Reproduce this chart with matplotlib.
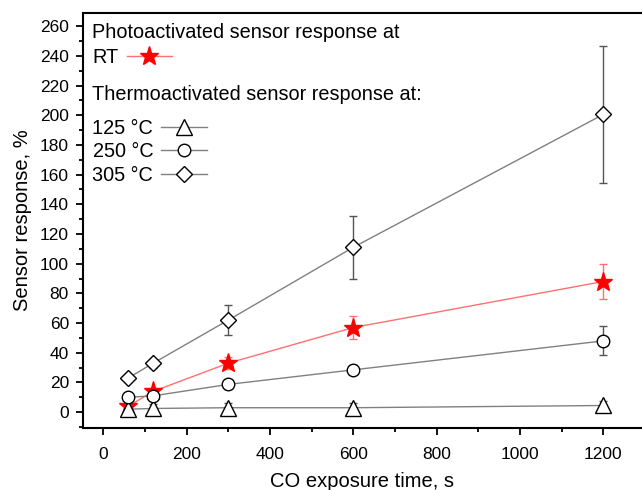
import numpy as np
import matplotlib.pyplot as plt
from matplotlib.ticker import MultipleLocator

plt.rcParams['font.family'] = ['Liberation Sans', 'DejaVu Sans']

# exposure times, s
t = [60, 120, 300, 600, 1200]

# photoactivated, RT
rt = [4, 14, 33, 57, 88]
rt_err = [2, 2, 4, 8, 12]

# thermoactivated
t125 = [2, 2.5, 3, 3, 4.5]
t125_err = [3, 3, 3, 3.5, 3]
t250 = [10, 11, 18.7, 28.5, 48]
t250_err = [2, 2, 3, 3, 9.7]
t305 = [23, 33, 62, 111, 200.5]
t305_err = [2, 3, 10, 21, 46]

fig = plt.figure(figsize=(6.42, 4.90), dpi=100)
ax = fig.add_axes([0.129, 0.127, 0.871, 0.847])

grey = '#808080'
red_line = '#ff7070'

# star drawn first so the white-filled markers sit over it
ax.errorbar(t, rt, yerr=rt_err, fmt='none', ecolor=red_line, elinewidth=1, capsize=3, capthick=1, zorder=2)
l_rt, = ax.plot(t, rt, color=red_line, lw=1, marker='*', ms=14, mfc='red', mec='red', zorder=3)

series = [(t125, t125_err, '^', 11), (t250, t250_err, 'o', 9), (t305, t305_err, 'D', 8.5)]
handles = []
for i, (y, e, m, s) in enumerate(series):
    ax.errorbar(t, y, yerr=e, fmt='none', ecolor='#555555', elinewidth=1, capsize=3, capthick=1, zorder=4 + 2 * i)
    ln, = ax.plot(t, y, color=grey, lw=1, marker=m, ms=s, mfc='white', mec='black', mew=1, zorder=5 + 2 * i)
    handles.append(ln)

ax.set_xlim(-49, 1293)
ax.set_ylim(-10.5, 269)
ax.xaxis.set_major_locator(MultipleLocator(200))
ax.xaxis.set_minor_locator(MultipleLocator(100))
ax.yaxis.set_major_locator(MultipleLocator(20))
ax.yaxis.set_minor_locator(MultipleLocator(10))
ax.tick_params(which='both', direction='out', top=False, right=False, width=1.3, labelsize=12.5)
ax.tick_params(axis='x', which='both', pad=9)
ax.tick_params(axis='y', which='both', pad=5)
ax.tick_params(which='major', length=5)
ax.tick_params(which='minor', length=3)
for sp in ax.spines.values():
    sp.set_linewidth(1.5)
ax.spines['right'].set_visible(False)

ax.set_xlabel('CO exposure time, s', fontsize=14.5, labelpad=7)
ax.set_ylabel('Sensor response, %', fontsize=14.5, labelpad=6)

fs = 14.3
leg1 = ax.legend([l_rt], ['RT'], title='Photoactivated sensor response at', loc='upper left',
                 bbox_to_anchor=(0.003, 0.995), markerfirst=False, frameon=False, alignment='left',
                 fontsize=fs, title_fontsize=fs, handlelength=2.3, handletextpad=0.4,
                 labelspacing=0.3, borderaxespad=0.1, borderpad=0.3)
ax.add_artist(leg1)
ax.text(0.016, 0.802, 'Thermoactivated sensor response at:', transform=ax.transAxes,
        fontsize=fs, ha='left', va='center')
ax.legend(handles, ['125 °C', '250 °C', '305 °C'], loc='upper left',
          bbox_to_anchor=(0.003, 0.764), markerfirst=False, frameon=False,
          fontsize=fs, handlelength=2.3, handletextpad=0.4,
          labelspacing=0.24, borderaxespad=0.1, borderpad=0.3)

fig.savefig('out.png', dpi=100)
